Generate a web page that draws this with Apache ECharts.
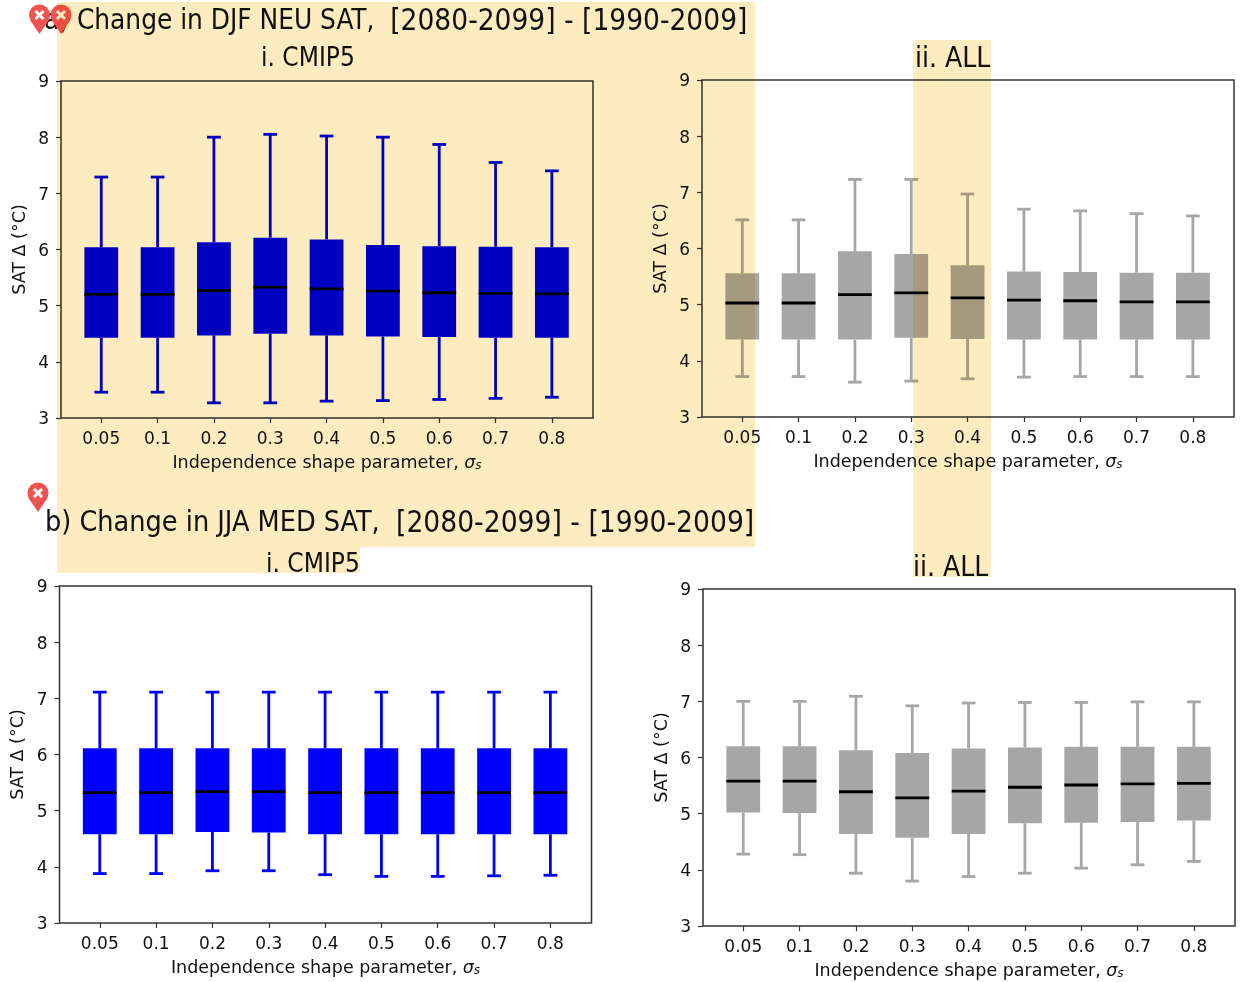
<!DOCTYPE html>
<html>
<head>
<meta charset="utf-8">
<style>html,body{margin:0;padding:0;background:#fff}#c{width:1240px;height:982px}</style>
<script src="https://cdn.jsdelivr.net/npm/echarts@6/dist/echarts.min.js"></script>
</head>
<body>
<div id="c"></div>
<script>
const tickLabels = ['0.05','0.1','0.2','0.3','0.4','0.5','0.6','0.7','0.8'];
const positions = [1,2,3,4,5,6,7,8,9];

const aLow  = [3.46,3.46,3.27,3.27,3.30,3.31,3.33,3.35,3.37];
const aQ1   = [4.43,4.43,4.47,4.50,4.47,4.45,4.44,4.43,4.43];
const aMed  = [5.20,5.20,5.27,5.33,5.30,5.26,5.23,5.22,5.21];
const aQ3   = [6.04,6.04,6.13,6.21,6.18,6.08,6.06,6.05,6.04];
const aHigh = [7.29,7.29,8.00,8.05,8.02,8.00,7.87,7.55,7.40];

const bLow  = [3.72,3.72,3.62,3.64,3.68,3.71,3.72,3.72,3.72];
const bQ1   = [4.38,4.38,4.38,4.41,4.39,4.38,4.38,4.38,4.38];
const bMed  = [5.03,5.03,5.18,5.21,5.12,5.08,5.07,5.05,5.05];
const bQ3   = [5.56,5.56,5.95,5.90,5.70,5.59,5.58,5.57,5.57];
const bHigh = [6.51,6.51,7.23,7.23,6.97,6.70,6.67,6.62,6.58];

const cLow  = [3.88,3.88,3.93,3.93,3.86,3.83,3.83,3.84,3.85];
const cQ1   = [4.58,4.58,4.62,4.61,4.58,4.58,4.58,4.58,4.58];
const cMed  = [5.32,5.32,5.34,5.34,5.32,5.32,5.32,5.32,5.32];
const cQ3   = [6.11,6.11,6.11,6.11,6.11,6.11,6.11,6.11,6.11];
const cHigh = [7.11,7.11,7.11,7.11,7.11,7.11,7.11,7.11,7.11];

const dLow  = [4.28,4.27,3.94,3.80,3.88,3.94,4.03,4.09,4.15];
const dQ1   = [5.02,5.01,4.64,4.57,4.64,4.83,4.84,4.85,4.88];
const dMed  = [5.58,5.58,5.39,5.28,5.40,5.47,5.51,5.53,5.54];
const dQ3   = [6.20,6.20,6.13,6.08,6.16,6.18,6.19,6.19,6.19];
const dHigh = [7.00,7.00,7.09,6.92,6.97,6.98,6.98,6.99,6.99];

const FONT = 'DejaVu Sans';
const TITLE_FONT = '"DejaVu Sans Condensed","DejaVu Sans"';
const BLUE = '#0000ff', GREY = '#a6a6a6';

const panels = [
  {low:aLow,q1:aQ1,med:aMed,q3:aQ3,high:aHigh,color:BLUE,left:61,top:81,width:532,height:337},
  {low:bLow,q1:bQ1,med:bMed,q3:bQ3,high:bHigh,color:GREY,left:702,top:80,width:532,height:337},
  {low:cLow,q1:cQ1,med:cMed,q3:cQ3,high:cHigh,color:BLUE,left:59.5,top:586,width:532,height:337},
  {low:dLow,q1:dQ1,med:dMed,q3:dQ3,high:dHigh,color:GREY,left:703,top:589,width:532,height:337}
];

function renderBox(color){
  return function(params, api){
    const p = api.value(0);
    const cx = api.coord([p, 3])[0];
    const yL = api.coord([p, api.value(1)])[1];
    const y1 = api.coord([p, api.value(2)])[1];
    const yM = api.coord([p, api.value(3)])[1];
    const y3 = api.coord([p, api.value(4)])[1];
    const yH = api.coord([p, api.value(5)])[1];
    const hw = 0.3 * (api.size([1,0])[0]);
    const cw = 0.122 * (api.size([1,0])[0]);
    const line = (x1,y1_,x2,y2,c,w)=>({type:'line',shape:{x1:x1,y1:y1_,x2:x2,y2:y2},style:{stroke:c,lineWidth:w}});
    return {type:'group',children:[
      line(cx,yH,cx,y3,color,2.8),
      line(cx,y1,cx,yL,color,2.8),
      line(cx-cw,yH,cx+cw,yH,color,2.8),
      line(cx-cw,yL,cx+cw,yL,color,2.8),
      {type:'rect',shape:{x:cx-hw,y:y3,width:2*hw,height:y1-y3},style:{fill:color}},
      line(cx-hw,yM,cx+hw,yM,'#000',2.8)
    ]};
  };
}

const grids = panels.map(p=>({left:p.left,top:p.top,width:p.width,height:p.height,outerBoundsMode:'none',show:true,borderColor:'#333',borderWidth:1.5,backgroundColor:'transparent'}));
const xAxes = panels.map((p,i)=>({
  type:'value',gridIndex:i,min:0.285,max:9.73,
  splitLine:{show:false},
  axisLine:{show:false,onZero:false},
  axisTick:{show:true,customValues:positions,length:5,lineStyle:{color:'#333',width:1.2}},
  axisLabel:{customValues:positions,color:'#111',fontFamily:FONT,fontSize:17,margin:13,
    formatter:v=>tickLabels[Math.round(v)-1]},
  name:'Independence shape parameter, {i|σ}{sub|s}',
  nameLocation:'middle',nameGap:36,
  nameTextStyle:{color:'#111',fontFamily:FONT,fontSize:17.5,
    rich:{i:{fontStyle:'italic',fontFamily:FONT,fontSize:17.5,color:'#111'},
          sub:{fontStyle:'italic',fontFamily:FONT,fontSize:12,color:'#111',padding:[6,0,0,0]}}}
}));
const yAxes = panels.map((p,i)=>({
  type:'value',gridIndex:i,min:3,max:9,interval:1,
  splitLine:{show:false},
  axisLine:{show:false,onZero:false},
  axisTick:{show:true,length:5,lineStyle:{color:'#333',width:1.2}},
  axisLabel:{color:'#111',fontFamily:FONT,fontSize:17,margin:12,verticalAlign:'top',lineHeight:4,showMinLabel:true,showMaxLabel:true},
  name:'SAT Δ (°C)',nameLocation:'middle',nameGap:32,
  nameTextStyle:{color:'#111',fontFamily:FONT,fontSize:17.5}
}));
const series = panels.map((p,i)=>({
  type:'custom',xAxisIndex:i,yAxisIndex:i,clip:false,silent:true,
  renderItem:renderBox(p.color),
  encode:{x:0,y:[1,2,3,4,5]},
  data:positions.map((x,k)=>[x,p.low[k],p.q1[k],p.med[k],p.q3[k],p.high[k]])
}));

const ts = (s,extra)=>Object.assign({fontFamily:TITLE_FONT,fontWeight:'normal',color:'#111',fontSize:s},extra||{});
const richMain = (a,b)=>({rich:{a:{fontFamily:TITLE_FONT,fontSize:a,color:'#111'},b:{fontFamily:TITLE_FONT,fontSize:b,color:'#111'}}});
const titles = [
  {text:'{a|a) Change in DJF NEU SAT,  }{b|[2080-2099] - [1990-2009]}',left:44,top:7,padding:0,textStyle:ts(28,richMain(27.7,29.5))},
  {text:'i. CMIP5',left:261,top:46,padding:0,textStyle:ts(26)},
  {text:'ii. ALL',left:915,top:46,padding:0,textStyle:ts(28)},
  {text:'{a|b) Change in JJA MED SAT,  }{b|[2080-2099] - [1990-2009]}',left:45,top:509,padding:0,textStyle:ts(28,richMain(28.5,29.6))},
  {text:'i. CMIP5',left:266,top:552,padding:0,textStyle:ts(26)},
  {text:'ii. ALL',left:913,top:555,padding:0,textStyle:ts(28)}
];

function pin(cx,cy){
  return {type:'group',x:cx,y:cy,z:50,children:[
    {type:'circle',z:50,shape:{cx:0,cy:0,r:10.5},style:{fill:'#ef5350'}},
    {type:'polygon',z:50,shape:{points:[[-9.5,5],[9.5,5],[0,19]]},style:{fill:'#ef5350'}},
    {type:'line',z:51,shape:{x1:-4,y1:-4,x2:4,y2:4},style:{stroke:'#fff',lineWidth:3}},
    {type:'line',z:51,shape:{x1:-4,y1:4,x2:4,y2:-4},style:{stroke:'#fff',lineWidth:3}}
  ]};
}
const HL = '#fdecc0';
function hl(x,y,w,h){return {type:'rect',z:100,shape:{x:x,y:y,width:w,height:h},style:{fill:HL,blend:'multiply'}};}
const graphic = [
  pin(39.5,15),pin(61,15),pin(38,493),
  {type:'rect',z:40,shape:{x:258,y:573,width:104,height:9},style:{fill:'#fff'}},
  hl(57,2,698,545),hl(57,547,303,26),hl(913,40,78,537)
];

const chart = echarts.init(document.getElementById('c'),null,{renderer:'canvas'});
chart.setOption({animation:false,backgroundColor:'#fff',title:titles,grid:grids,xAxis:xAxes,yAxis:yAxes,series:series,graphic:{elements:graphic}});
</script>
</body>
</html>
